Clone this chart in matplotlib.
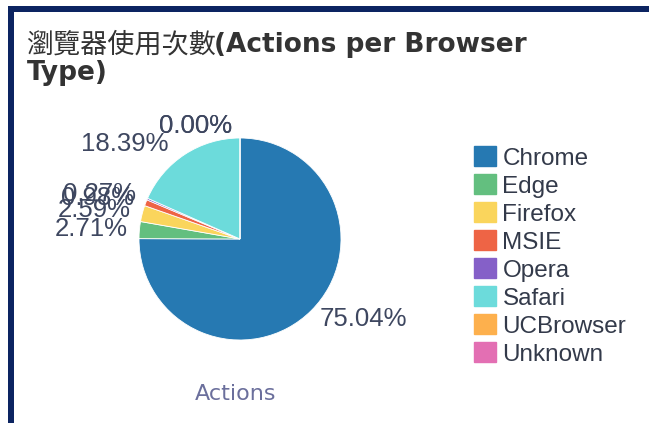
import matplotlib
matplotlib.use("Agg")
import matplotlib.pyplot as plt
from matplotlib.patches import Patch, Rectangle

# data
browsers = ["Chrome", "Edge", "Firefox", "MSIE", "Opera", "Safari", "UCBrowser", "Unknown"]
shares = [75.04, 2.71, 2.59, 0.98, 0.27, 18.39, 0.00, 0.00]
colors = ["#2679b2", "#63bf7f", "#fad55c", "#ee6445", "#8560c8", "#6cdbdb", "#fdb04d", "#e36fb3"]
title_zh = "瀏覽器使用次數"
title_en = "(Actions per Browser"
title_en2 = "Type)"
series_name = "Actions"

W, H = 649, 423
plt.rcParams["font.family"] = ["Liberation Sans", "DejaVu Sans"]

fig = plt.figure(figsize=(W / 100, H / 100), dpi=100)
fig.patch.set_facecolor("white")

def fx(px):
    return px / W

def fy(py):
    return 1 - py / H

# card border (navy, top and left)
navy = "#0c2461"
fig.add_artist(Rectangle((fx(8), fy(12)), fx(W - 8), 6 / H, transform=fig.transFigure,
                         color=navy, lw=0))
fig.add_artist(Rectangle((fx(8), 0), 6 / W, fy(6), transform=fig.transFigure,
                         color=navy, lw=0))

# title: chinese part regular, english part bold
fig.text(fx(26), fy(45), title_zh, family=["Noto Sans CJK TC"], fontsize=19.5,
         color="#333333", va="center", ha="left")
fig.text(fx(214), fy(45), title_en, family=["DejaVu Sans"], fontweight="bold",
         fontsize=19, color="#333333", va="center", ha="left")
fig.text(fx(27), fy(73), title_en2, family=["DejaVu Sans"], fontweight="bold",
         fontsize=19, color="#333333", va="center", ha="left")

# pie
r = 101
cx, cy = 240, 239
ax = fig.add_axes([fx(cx - r), fy(cy + r), 2 * r / W, 2 * r / H])
labels = ["%.2f%%" % v for v in shares]
wedges, texts = ax.pie(shares, labels=labels, colors=colors, startangle=90,
                       counterclock=False, labeldistance=1.12,
                       wedgeprops=dict(linewidth=0.6, edgecolor="white"),
                       textprops=dict(fontsize=18.5, color="#3e4760"))
for t, v, name in zip(texts, shares, browsers):
    x, y = t.get_position()
    if v == 0:
        # zero slices sit at the top, label them to the left like the original
        t.set_horizontalalignment("right")
        t.set_position((-0.08, y))
    elif name == "Safari":
        t.set_position((x - 0.1, y))
ax.set_xlim(-1, 1)
ax.set_ylim(-1, 1)
ax.set_aspect("equal")
ax.axis("off")

fig.text(fx(236), fy(394), series_name, fontsize=16, color="#6b6f9c",
         ha="center", va="center", family=["DejaVu Sans"])

# legend
handles = [Patch(facecolor=c, edgecolor=c) for c in colors]
fig.legend(handles, browsers, loc="upper left", bbox_to_anchor=(fx(474), fy(146)),
           frameon=False, fontsize=17.5, handlelength=0.92, handleheight=0.92,
           handletextpad=0.25, labelspacing=0.18, borderpad=0, borderaxespad=0,
           labelcolor="#333a4a")

fig.savefig("out.png", dpi=100)
